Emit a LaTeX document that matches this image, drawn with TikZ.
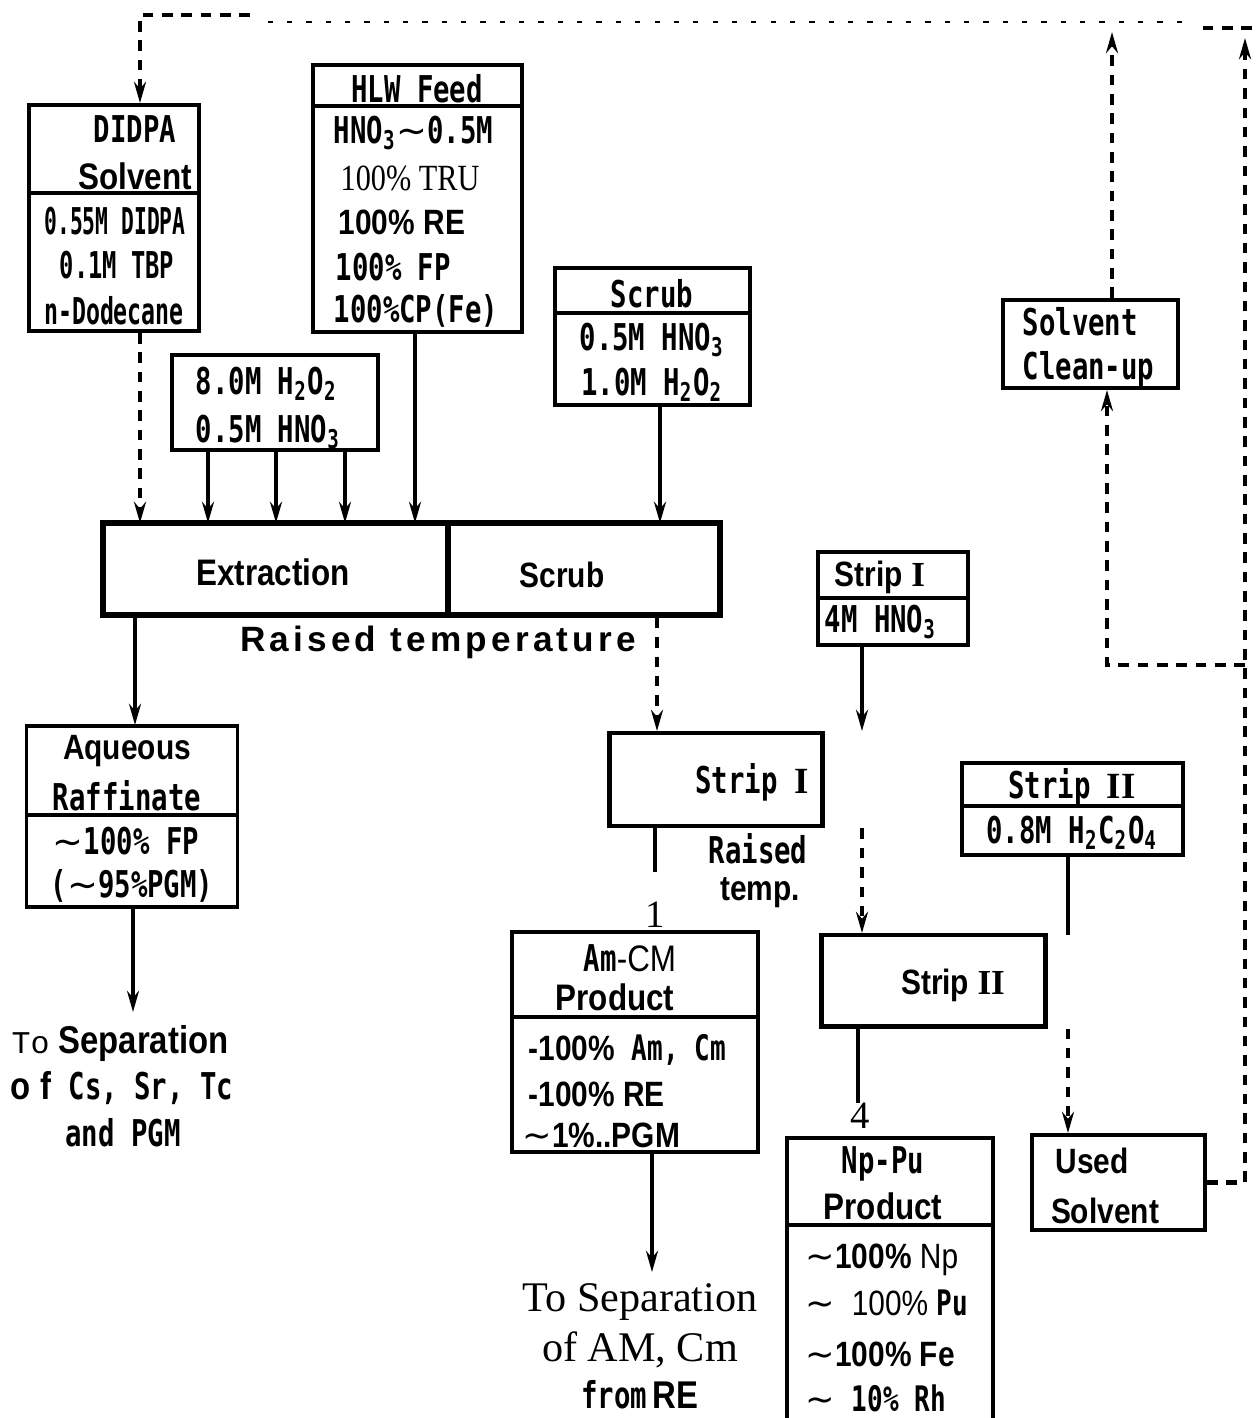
\documentclass[tikz,border=0pt]{standalone}
\usepackage{fontspec}
\usepackage{graphicx}
\setmainfont{Liberation Serif}
\newfontfamily\cfnt[FakeStretch=0.74]{DejaVu Sans Mono}
\newfontfamily\sansc[FakeStretch=0.85]{Liberation Sans}
\newfontfamily\sansb{Liberation Sans}
\newfontfamily\serc[FakeStretch=0.82]{Liberation Serif}
\newfontfamily\djsans{DejaVu Sans}
\newfontfamily\twfont{Liberation Mono}
\usetikzlibrary{arrows.meta,calc}
\newcommand{\tld}{{\djsans\mdseries ∼}}
\newcommand{\sub}[1]{\textsubscript{#1}}
\newcommand{\sx}[2]{\scalebox{#1}[1]{#2}}
\tikzset{
  box/.style={draw, line width=1.1pt, inner sep=0pt},
  cft/.style={font=\cfnt\bfseries\fontsize{10.5}{12}\selectfont, inner sep=0pt},
  sft/.style={font=\sansc\bfseries\fontsize{10}{12}\selectfont, inner sep=0pt},
  srt/.style={font=\fontsize{11}{13}\selectfont, inner sep=0pt},
  arr/.style={-{Stealth[length=6pt,width=3.4pt]}},
  dsh/.style={line width=1.2pt, dash pattern=on 3pt off 2.5pt},
  con/.style={line width=1pt},
  divl/.style={line width=0.9pt}
}
\begin{document}
\begin{tikzpicture}[x=0.01cm,y=-0.01cm]
\useasboundingbox (0,0) rectangle (1258,1418);
\fill[white] (0,0) rectangle (1258,1418);

% ---------- boxes ----------
\node[box, minimum width=1.70cm, minimum height=2.26cm] (didpa) at (114,218) {};
\draw[divl] ($(didpa.north west)+(0,90)$) -- ($(didpa.north east)+(0,90)$);
\node[cft] (didpa1) at (135,129) {DIDPA};
\node[sft, font=\sansc\bfseries\fontsize{10.5}{12}\selectfont] (didpa2) at (135,176) {Solvent};
\node[cft] (didpa3) at (115,221) {\sx{0.78}{0.55M DIDPA}};
\node[cft] (didpa4) at (117,265) {\sx{0.87}{0.1M TBP}};
\node[cft] (didpa5) at (114,311) {\sx{0.85}{n-Dodecane}};

\node[box, minimum width=2.09cm, minimum height=2.67cm] (hlw) at (417.5,198.5) {};
\draw[divl] ($(hlw.north west)+(0,43)$) -- ($(hlw.north east)+(0,43)$);
\node[cft] (hlw1) at (417,89) {HLW Feed};
\node[cft, anchor=west] (hlw2) at (333,133) {HNO\sub{3}\tld0.5M};
\node[srt, font=\serc\fontsize{10.5}{12}\selectfont, anchor=west] (hlw3) at (340,178) {100\% TRU};
\node[sft, anchor=west] (hlw4) at (338,222) {100\% RE};
\node[cft, anchor=west] (hlw5) at (335,267) {100\% FP};
\node[cft, anchor=west] (hlw6) at (333,311) {100\%CP(Fe)};

\node[box, minimum width=2.06cm, minimum height=0.95cm] (h2o2) at (275,402.5) {};
\node[cft, anchor=west] (h2o21) at (195,384) {8.0M H\sub{2}O\sub{2}};
\node[cft, anchor=west] (h2o22) at (195,432) {0.5M HNO\sub{3}};

\node[box, minimum width=1.95cm, minimum height=1.37cm] (scrubin) at (652.5,336.5) {};
\draw[divl] ($(scrubin.north west)+(0,47)$) -- ($(scrubin.north east)+(0,47)$);
\node[cft] (scrubin1) at (652,294) {Scrub};
\node[cft] (scrubin2) at (652,340) {0.5M HNO\sub{3}};
\node[cft] (scrubin3) at (652,385) {1.0M H\sub{2}O\sub{2}};

\node[box, minimum width=1.75cm, minimum height=0.88cm] (cleanup) at (1090.5,344) {};
\node[cft, anchor=west] (cleanup1) at (1022,322) {Solvent};
\node[cft, anchor=west] (cleanup2) at (1022,369) {Clean-up};

\node[box, line width=1.6pt, minimum width=3.45cm, minimum height=0.92cm] (ext) at (275.5,569) {};
\node[box, line width=1.6pt, minimum width=2.72cm, minimum height=0.92cm] (scr) at (584,569) {};
\node[sft, font=\sansc\bfseries\fontsize{10.5}{12}\selectfont] (ext1) at (273,572) {Extraction};
\node[sft] (scr1) at (562,575) {Scrub};
\node[sft, font=\sansb\bfseries\fontsize{10}{12}\selectfont\addfontfeature{LetterSpace=12}] (raised) at (438,642) {Raised temperature};

\node[box, minimum width=1.50cm, minimum height=0.93cm] (s1in) at (893,598.5) {};
\draw[divl] ($(s1in.north west)+(0,48)$) -- ($(s1in.north east)+(0,48)$);
\node[sft] (s1in1) at (880,577) {Strip {\rmfamily I}};
\node[cft, anchor=west] (s1in2) at (824,622) {4M HNO\sub{3}};

\node[box, line width=1.4pt, minimum width=2.12cm, minimum height=0.93cm] (s1) at (716,779.5) {};
\node[cft] (s11) at (752,782) {Strip {\rmfamily\bfseries I}};
\node[cft] (rt1) at (758,849) {Raised};
\node[sft] (rt2) at (760,893) {temp.};

\node[box, minimum width=2.21cm, minimum height=0.92cm] (s2in) at (1072.5,809) {};
\draw[divl] ($(s2in.north west)+(0,45)$) -- ($(s2in.north east)+(0,45)$);
\node[cft] (s2in1) at (1072,787) {Strip {\rmfamily\bfseries II}};
\node[cft] (s2in2) at (1072,833) {0.8M H\sub{2}C\sub{2}O\sub{4}};

\node[box, line width=1.4pt, minimum width=2.23cm, minimum height=0.91cm] (s2) at (933.5,980.5) {};
\node[sft] (s21) at (953,985) {Strip {\rmfamily II}};

\node[box, minimum width=2.11cm, minimum height=1.81cm] (aq) at (132,816.5) {};
\draw[divl] ($(aq.north west)+(0,91)$) -- ($(aq.north east)+(0,91)$);
\node[sft] (aq1) at (127,751) {Aqueous};
\node[cft] (aq2) at (127,796) {Raffinate};
\node[cft] (aq3) at (126,841) {\tld100\% FP};
\node[cft] (aq4) at (132,886) {(\tld95\%PGM)};

\node[inner sep=0pt] (tocs1) at (120,1043) {{\twfont\fontsize{9}{10}\selectfont To} {\sansc\bfseries\fontsize{11}{12}\selectfont Separation}};
\node[inner sep=0pt] (tocs2) at (122,1088) {{\sansc\bfseries\fontsize{11}{12}\selectfont o f}\ \ {\cfnt\bfseries\fontsize{10.5}{12}\selectfont Cs, Sr, Tc}};
\node[cft] (tocs3) at (123,1133) {and PGM};

\node[box, minimum width=2.46cm, minimum height=2.20cm] (amcm) at (635,1042) {};
\draw[divl] ($(amcm.north west)+(0,87)$) -- ($(amcm.north east)+(0,87)$);
\node[cft] (amcm1) at (630,958) {Am{\sansc\mdseries -CM}};
\node[sft, font=\sansc\bfseries\fontsize{10.5}{12}\selectfont] (amcm2) at (615,997) {Product};
\node[sft, anchor=west] (amcm3) at (528,1050) {-100\%\ \ {\cfnt Am, Cm}};
\node[sft, anchor=west] (amcm4) at (528,1094) {-100\% RE};
\node[sft, anchor=west] (amcm5) at (522,1135) {\tld1\%..PGM};
\node[srt] (one) at (655,915) {1};
\node[srt] (four) at (860,1116) {4};

\node[inner sep=0pt, font=\fontsize{12}{14}\selectfont] (tore1) at (640,1302) {To Separation};
\node[inner sep=0pt, font=\fontsize{12}{14}\selectfont] (tore2) at (640,1350) {of AM, Cm};
\node[inner sep=0pt] (tore3) at (640,1395) {{\cfnt\bfseries\fontsize{10.5}{12}\selectfont from}\,{\sansc\bfseries\fontsize{11}{12}\selectfont RE}};

\coordinate (np-tl) at (787,1138);
\coordinate (np-tr) at (993,1138);
\draw[line width=1.3pt] (787,1418) -- (np-tl) -- (np-tr) -- (993,1418);
\draw[divl] (787,1225) -- (993,1225);
\node[cft] (nppu1) at (883,1164) {Np-Pu};
\node[sft, font=\sansc\bfseries\fontsize{10.5}{12}\selectfont] (nppu2) at (883,1206) {Product};
\node[sft, anchor=west] (nppu3) at (805,1260) {\tld100\% {\sansc\mdseries Np}};
\node[sft, anchor=west] (nppu4) at (805,1303) {\tld\ \ {\sansc\mdseries 100\%} {\cfnt Pu}};
\node[sft, anchor=west] (nppu5) at (805,1354) {\tld100\% Fe};
\node[sft, anchor=west] (nppu6) at (805,1398) {\tld\ \ {\cfnt 10\% Rh}};

\node[box, minimum width=1.73cm, minimum height=0.95cm] (used) at (1118.5,1182.5) {};
\node[sft] (used1) at (1092,1161) {Used};
\node[sft] (used2) at (1105,1211) {Solvent};

% ---------- connectors ----------
\coordinate (e1) at (140,523);
\coordinate (e2) at (208,523);
\coordinate (e3) at (276,523);
\coordinate (e4) at (345,523);
\coordinate (e5) at (415,523);
\coordinate (e6) at (660,523);
\draw[dsh,arr] (didpa.south -| e1) -- (e1);
\draw[con,arr] (h2o2.south -| e2) -- (e2);
\draw[con,arr] (h2o2.south -| e3) -- (e3);
\draw[con,arr] (h2o2.south -| e4) -- (e4);
\draw[con,arr] (hlw.south -| e5) -- (e5);
\draw[con,arr] (scrubin.south -| e6) -- (e6);

\coordinate (a1) at (135,725);
\draw[con,arr] (ext.south -| a1) -- (a1);
\coordinate (a2) at (133,1012);
\draw[con,arr] (aq.south -| a2) -- (a2);

\coordinate (b1) at (657,731);
\draw[dsh,arr] (scr.south -| b1) -- (b1);
\coordinate (b2) at (862,731);
\draw[con,arr] (s1in.south -| b2) -- (b2);
\coordinate (c1) at (655,872);
\draw[con] (s1.south -| c1) -- (c1);
\coordinate (b3) at (862,933);
\draw[dsh,arr] (s1.south -| b3) -- (b3);
\coordinate (b7) at (1068,935);
\draw[con] (s2in.south -| b7) -- (b7);
\coordinate (c4) at (858,1103);
\draw[con] (s2.south -| c4) -- (c4);
\coordinate (b4) at (1068,1133);
\draw[dsh,arr] (s2.south -| b4) -- (b4);
\coordinate (b5) at (652,1272);
\draw[con,arr] (amcm.south -| b5) -- (b5);

% recycle loop
\coordinate (r1) at (1245,38);
\draw[dsh,arr] (used.east) -| (r1);
\coordinate (r2) at (1245,665);
\coordinate (r3) at (1107,665);
\draw[dsh,arr] (r2) -- (r3) -- (r3 |- cleanup.south);
\coordinate (r4) at (1112,32);
\draw[dsh,arr] (cleanup.north -| r4) -- (r4);

\coordinate (t1) at (1252,28);
\coordinate (t2) at (1198,28);
\coordinate (t3) at (1182,22);
\coordinate (t4) at (258,22);
\coordinate (t5) at (250,15);
\coordinate (t6) at (140,15);
\draw[dsh] (t1) -- (t2);
\draw[line width=0.7pt, dash pattern=on 1.5pt off 4pt] (t3) -- (t4);
\draw[dsh,arr] (t5) -- (t6) -- (didpa.north -| t6);
\end{tikzpicture}
\end{document}
